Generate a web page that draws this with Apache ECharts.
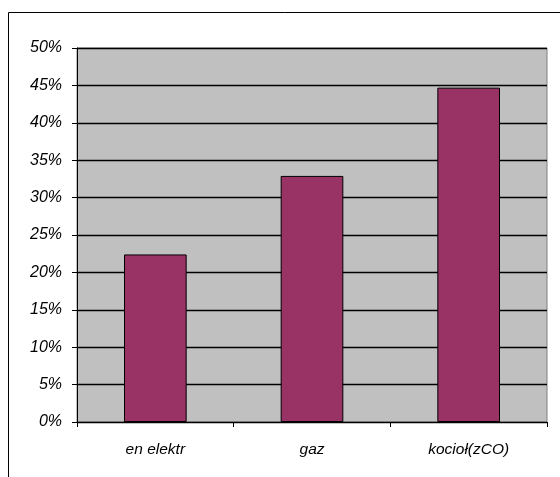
<!DOCTYPE html>
<html>
<head>
<meta charset="utf-8">
<script src="https://cdn.jsdelivr.net/npm/echarts@6/dist/echarts.min.js"></script>
<style>
html,body{margin:0;padding:0;background:#fff;}
#chart{width:560px;height:477px;}
</style>
</head>
<body>
<div id="chart"></div>
<script>
var categories = ['en elektr', 'gaz', 'kocioł(zCO)'];
var values = [0.224, 0.329, 0.447];
var yTicks = [0, 0.05, 0.10, 0.15, 0.20, 0.25, 0.30, 0.35, 0.40, 0.45, 0.50];

var chart = echarts.init(document.getElementById('chart'), null, {renderer: 'canvas'});
chart.setOption({
  animation: false,
  backgroundColor: '#ffffff',
  graphic: [{
    type: 'rect',
    shape: {x: 8.5, y: 12.5, width: 700, height: 700},
    style: {fill: 'none', stroke: '#000', lineWidth: 1},
    silent: true,
    z: 100
  }],
  grid: {
    left: 77, top: 48, right: 13, bottom: 55,
    show: true,
    backgroundColor: '#C0C0C0',
    borderColor: '#808080',
    borderWidth: 1
  },
  xAxis: {
    type: 'category',
    data: categories,
    axisLine: {show: true, lineStyle: {color: '#000', width: 1}},
    axisTick: {show: true, length: 5, alignWithLabel: false, lineStyle: {color: '#000'}},
    axisLabel: {
      margin: 20,
      color: '#000',
      fontStyle: 'italic',
      fontFamily: 'Liberation Sans, Arial, sans-serif',
      fontSize: 15.5
    },
    splitLine: {show: false}
  },
  yAxis: {
    type: 'value',
    min: 0, max: 0.5, interval: 0.05,
    axisLine: {show: true, lineStyle: {color: '#000', width: 1}},
    axisTick: {show: true, length: 5, lineStyle: {color: '#000'}},
    splitLine: {show: true, lineStyle: {color: '#000', width: 1.3}},
    axisLabel: {
      margin: 15,
      color: '#000',
      fontStyle: 'italic',
      fontFamily: 'Liberation Sans, Arial, sans-serif',
      fontSize: 16,
      formatter: function (v) { return Math.round(v * 100) + '%'; }
    }
  },
  series: [{
    type: 'bar',
    data: values,
    barWidth: '40%',
    itemStyle: {color: '#993366', borderColor: '#000', borderWidth: 1}
  }]
});
</script>
</body>
</html>
